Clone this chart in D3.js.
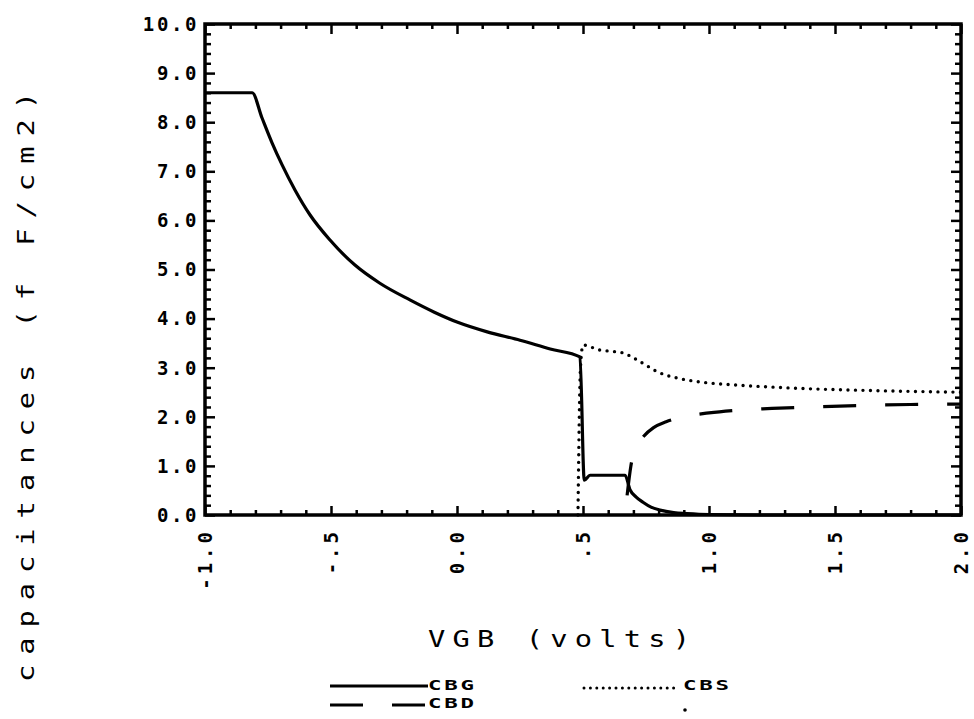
<!DOCTYPE html>
<html>
<head>
<meta charset="utf-8">
<script src="https://cdn.jsdelivr.net/npm/d3@7"></script>
<style>
body { margin: 0; background: #fff; }
text { fill: #000; }
.lbl { font-family: "DejaVu Sans Mono", monospace; font-weight: bold; font-size: 19px; }
.ttl { font-family: "DejaVu Sans Mono", monospace; font-size: 23px; }
.leg { font-family: "DejaVu Sans Mono", monospace; font-weight: bold; font-size: 14px; }
</style>
</head>
<body>
<script>
// values: [VGB volts, capacitance fF/cm2]
var cbg = [[-1.0, 8.6], [-0.813, 8.6], [-0.774, 8.09], [-0.734, 7.58], [-0.694, 7.13],
  [-0.643, 6.62], [-0.583, 6.11], [-0.504, 5.60], [-0.405, 5.09], [-0.306, 4.72],
  [-0.187, 4.38], [-0.09, 4.13], [0.0, 3.93], [0.12, 3.73], [0.25, 3.56], [0.37, 3.38],
  [0.488, 3.22], [0.505, 0.71], [0.528, 0.81], [0.667, 0.81], [0.687, 0.51], [0.71, 0.37],
  [0.738, 0.26], [0.77, 0.16], [0.806, 0.1], [0.86, 0.05], [0.913, 0.03], [1.0, 0.01],
  [1.2, 0.0], [2.0, 0.0]];
var cbd = [[0.675, 0.4], [0.69, 1.0], [0.71, 1.38], [0.74, 1.6], [0.78, 1.78], [0.83, 1.9],
  [0.9, 2.0], [1.0, 2.08], [1.1, 2.13], [1.25, 2.17], [1.4, 2.2], [1.6, 2.23], [1.8, 2.25], [2.0, 2.26]];
var cbs = [[0.48, 0.0], [0.49, 3.0], [0.50, 3.46], [0.567, 3.36], [0.62, 3.33], [0.659, 3.3],
  [0.714, 3.16], [0.76, 3.02], [0.794, 2.92], [0.873, 2.79], [0.964, 2.71], [1.095, 2.65],
  [1.23, 2.61], [1.349, 2.58], [1.6, 2.54], [2.0, 2.5]];

var xTickValues = [-1.0, -0.5, 0.0, 0.5, 1.0, 1.5, 2.0];
var xTickLabels = ["-1.0", "-.5", "0.0", ".5", "1.0", "1.5", "2.0"];
var yTickValues = [0, 1, 2, 3, 4, 5, 6, 7, 8, 9, 10];
var yTickLabels = ["0.0", "1.0", "2.0", "3.0", "4.0", "5.0", "6.0", "7.0", "8.0", "9.0", "10.0"];

var legendNames = ["CBG", "CBS", "CBD"];

var margin = { top: 24, right: 13, bottom: 204, left: 205 };
var width = 974 - margin.left - margin.right;
var height = 719 - margin.top - margin.bottom;

var root = d3.select("body").append("svg")
    .attr("width", 974)
    .attr("height", 719);

var svg = root.append("g")
    .attr("transform", "translate(" + margin.left + "," + margin.top + ")");

var x = d3.scaleLinear().domain([-1, 2]).range([0, width]);
var y = d3.scaleLinear().domain([0, 10]).range([height, 0]);

var xMinor = d3.range(-1, 2.001, 0.1).filter(function(v) { return Math.abs(v * 2 - Math.round(v * 2)) > 0.01; });
var yMinor = d3.range(0, 10.001, 0.2).filter(function(v) { return Math.abs(v - Math.round(v)) > 0.01; });

// inward ticks on all four sides
function ticks(axis, values, size, tr) {
  var g = svg.append("g")
      .attr("transform", tr)
      .call(axis.tickValues(values).tickSize(-size).tickFormat(""));
  g.select(".domain").remove();
  g.selectAll("line").attr("stroke", "#000").attr("stroke-width", 2.5);
}
ticks(d3.axisBottom(x), xMinor, 5, "translate(0," + height + ")");
ticks(d3.axisBottom(x), xTickValues, 9, "translate(0," + height + ")");
ticks(d3.axisTop(x), xMinor, 5, "translate(0,0)");
ticks(d3.axisTop(x), xTickValues, 10, "translate(0,0)");
ticks(d3.axisLeft(y), yMinor, 6, "translate(0,0)");
ticks(d3.axisLeft(y), yTickValues, 10, "translate(0,0)");
ticks(d3.axisRight(y), yMinor, 6, "translate(" + width + ",0)");
ticks(d3.axisRight(y), yTickValues, 10, "translate(" + width + ",0)");

svg.append("rect")
    .attr("width", width)
    .attr("height", height)
    .attr("fill", "none")
    .attr("stroke", "#000")
    .attr("stroke-width", 3.5);

svg.selectAll(".ylab")
    .data(yTickValues)
    .enter()
    .append("text")
    .attr("class", "lbl ylab")
    .attr("x", -6)
    .attr("y", function(d) { return y(d); })
    .attr("dy", "0.36em")
    .attr("text-anchor", "end")
    .attr("letter-spacing", 2.6)
    .text(function(d, i) { return yTickLabels[i]; });

svg.selectAll(".xlab")
    .data(xTickValues)
    .enter()
    .append("text")
    .attr("class", "lbl xlab")
    .attr("transform", function(d) { return "translate(" + x(d) + "," + (height + 13) + ") rotate(-90)"; })
    .attr("dy", "0.36em")
    .attr("text-anchor", "end")
    .attr("letter-spacing", 4)
    .text(function(d, i) { return xTickLabels[i]; });

var line = d3.line()
    .curve(d3.curveMonotoneX)
    .x(function(d) { return x(d[0]); })
    .y(function(d) { return y(d[1]); });

svg.append("path").datum(cbs)
    .attr("d", line)
    .attr("fill", "none")
    .attr("stroke", "#000")
    .attr("stroke-width", 3.4)
    .attr("stroke-linecap", "round")
    .attr("stroke-dasharray", "0 7.5");

svg.append("path").datum(cbd)
    .attr("d", line)
    .attr("fill", "none")
    .attr("stroke", "#000")
    .attr("stroke-width", 3.2)
    .attr("stroke-dasharray", "33 29");

svg.append("path").datum(cbg)
    .attr("d", line)
    .attr("fill", "none")
    .attr("stroke", "#000")
    .attr("stroke-width", 3.2)
    .attr("stroke-linejoin", "round");

// axis titles (wide plotter lettering)
root.append("text")
    .attr("class", "ttl")
    .attr("transform", "translate(428,647) scale(1.25,1)")
    .attr("textLength", 262 / 1.25)
    .attr("lengthAdjust", "spacing")
    .text("VGB (volts)");

root.append("text")
    .attr("class", "ttl")
    .attr("transform", "translate(34,682) rotate(-90) scale(1.25,1)")
    .attr("textLength", 590 / 1.25)
    .attr("lengthAdjust", "spacing")
    .text("capacitances  (f F/cm2)");

// legend
var leg = root.append("g");
leg.append("line").attr("x1", 330).attr("x2", 428).attr("y1", 686).attr("y2", 686)
    .attr("stroke", "#000").attr("stroke-width", 3);
leg.append("line").attr("x1", 584).attr("x2", 680).attr("y1", 688).attr("y2", 688)
    .attr("stroke", "#000").attr("stroke-width", 3).attr("stroke-linecap", "round").attr("stroke-dasharray", "0 6.4");
leg.append("line").attr("x1", 330).attr("x2", 428).attr("y1", 705).attr("y2", 705)
    .attr("stroke", "#000").attr("stroke-width", 3).attr("stroke-dasharray", "33 29");

leg.selectAll(".legt")
    .data(legendNames)
    .enter()
    .append("text")
    .attr("class", "leg legt")
    .attr("transform", function(d, i) {
      return "translate(" + (i == 1 ? 683 : 428) + "," + (i == 2 ? 708 : 690) + ") scale(1.6,1)";
    })
    .attr("textLength", 46 / 1.6)
    .attr("lengthAdjust", "spacing")
    .text(function(d) { return d; });

leg.append("circle").attr("cx", 685).attr("cy", 710).attr("r", 1.8).attr("fill", "#000");
</script>
</body>
</html>
